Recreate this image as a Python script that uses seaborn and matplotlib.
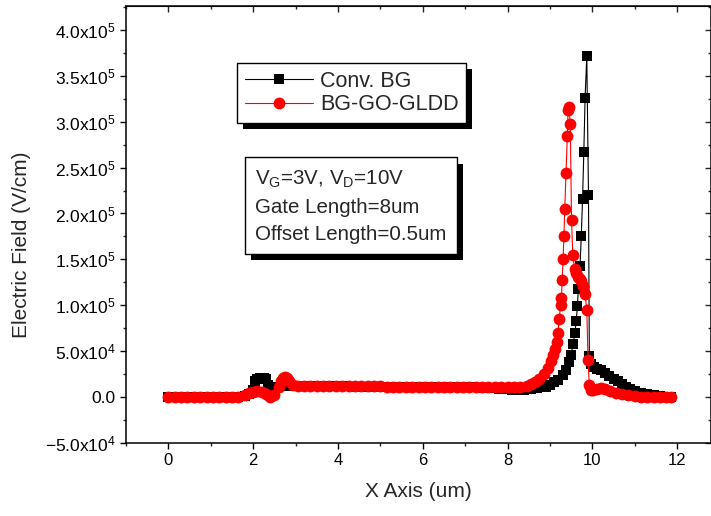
import numpy as np
import pandas as pd
import matplotlib
matplotlib.use("Agg")
import matplotlib.pyplot as plt
import matplotlib.patheffects as pe
import seaborn as sns

# ---- data (y values in units of 1e4 V/cm) ----
SCALE = 1e4

conv_x = [0.0, 0.15, 0.3, 0.45, 0.6, 0.75, 0.9, 1.05, 1.2, 1.35, 1.5, 1.65, 1.8,
          1.9, 2.0, 2.05, 2.1, 2.15, 2.2, 2.25, 2.3, 2.35, 2.45, 2.55, 2.65, 2.75, 2.85,
          3.0, 3.15, 3.3, 3.45, 3.6, 3.75, 3.9, 4.05, 4.2, 4.35, 4.5, 4.65, 4.8, 4.95,
          5.1, 5.25, 5.4, 5.55, 5.7, 5.85, 6.0, 6.15, 6.3, 6.45, 6.6, 6.75, 6.9, 7.05,
          7.2, 7.35, 7.5, 7.65, 7.8, 7.95, 8.1, 8.25, 8.4, 8.55, 8.7, 8.8, 8.9, 9.0,
          9.1, 9.2, 9.3, 9.38, 9.45, 9.5, 9.55, 9.59, 9.62, 9.65, 9.67, 9.71, 9.74,
          9.77, 9.80, 9.83, 9.87, 9.91, 9.93, 9.98, 10.05, 10.12, 10.2, 10.3, 10.4,
          10.5, 10.6, 10.7, 10.8, 10.9, 11.0, 11.15, 11.3, 11.45, 11.6, 11.75, 11.85]
conv_y = [0, 0, 0, 0, 0, 0, 0, 0, 0, 0, 0, 0, 0.1,
          0.3, 0.8, 1.7, 2.0, 2.1, 2.0, 2.1, 2.0, 1.3, 1.0, 1.1, 1.2, 1.2, 1.2,
          1.2, 1.2, 1.2, 1.2, 1.2, 1.2, 1.2, 1.2, 1.2, 1.15, 1.15, 1.15, 1.15, 1.15,
          1.15, 1.15, 1.15, 1.1, 1.1, 1.1, 1.1, 1.1, 1.1, 1.1, 1.05, 1.05, 1.05, 1.05,
          1.05, 1.0, 1.0, 0.95, 0.9, 0.85, 0.8, 0.8, 0.8, 0.85, 0.95, 1.05, 1.15, 1.3,
          1.6, 1.9, 2.4, 3.0, 3.8, 4.6, 5.8, 7.0, 8.3, 9.9, 11.8, 14.3, 17.5,
          21.6, 26.7, 32.6, 37.2, 22.0, 4.5, 3.6, 3.3, 3.1, 2.9, 2.6, 2.3,
          2.0, 1.7, 1.4, 1.1, 0.9, 0.7, 0.5, 0.35, 0.2, 0.1, 0.05, 0.0]

gldd_x = [0.0, 0.15, 0.3, 0.45, 0.6, 0.75, 0.9, 1.05, 1.2, 1.35, 1.5, 1.65,
          1.8, 1.9, 2.0, 2.1, 2.2, 2.3, 2.4, 2.5, 2.6, 2.65, 2.7, 2.75, 2.8, 2.85,
          2.95, 3.05, 3.2, 3.35, 3.5, 3.65, 3.8, 3.95, 4.1, 4.25, 4.4, 4.55, 4.7,
          4.85, 5.0, 5.15, 5.3, 5.45, 5.6, 5.75, 5.9, 6.05, 6.2, 6.35, 6.5, 6.65,
          6.8, 6.95, 7.1, 7.25, 7.4, 7.55, 7.7, 7.85, 8.0, 8.15, 8.3, 8.45, 8.55,
          8.65, 8.75, 8.85, 8.95, 9.02, 9.08, 9.12, 9.16, 9.19, 9.22, 9.25, 9.27,
          9.29, 9.31, 9.33, 9.35, 9.38, 9.41, 9.43, 9.45, 9.48, 9.51, 9.54, 9.58,
          9.62, 9.66, 9.70, 9.74, 9.78, 9.83, 9.87, 9.90, 9.93, 9.97, 10.02, 10.1,
          10.2, 10.3, 10.42, 10.55, 10.7, 10.85, 11.0, 11.15, 11.3, 11.45, 11.6,
          11.75, 11.85]
gldd_y = [0, 0, 0, 0, 0, 0, 0, 0, 0, 0, 0, 0,
          0.2, 0.4, 0.6, 0.7, 0.6, 0.3, 0.0, 0.2, 1.1, 1.8, 2.1, 2.2, 2.1, 1.7,
          1.35, 1.25, 1.25, 1.25, 1.25, 1.25, 1.25, 1.2, 1.2, 1.2, 1.2, 1.2, 1.2,
          1.2, 1.2, 1.15, 1.15, 1.15, 1.15, 1.15, 1.15, 1.15, 1.1, 1.1, 1.1, 1.1,
          1.1, 1.1, 1.1, 1.1, 1.05, 1.05, 1.05, 1.05, 1.05, 1.05, 1.1, 1.25, 1.4,
          1.65, 2.0, 2.5, 3.2, 3.9, 4.6, 5.2, 6.0, 7.0, 8.5, 10.0, 10.8,
          12.8, 15.0, 17.5, 20.5, 24.4, 28.4, 31.3, 31.6, 29.7, 19.3, 15.5, 14.0,
          13.5, 13.1, 12.9, 12.6, 12.1, 11.2, 9.5, 4.0, 1.3, 0.8, 0.75, 0.9,
          0.95, 0.85, 0.7, 0.5, 0.35, 0.2, 0.1, 0.05, 0.0, 0.0, 0.0,
          0.0, 0.0]

series_names = ["Conv. BG", "BG-GO-GLDD"]

x_ticks = [0, 2, 4, 6, 8, 10, 12]
y_ticks = [-5e4, 0, 5e4, 1e5, 1.5e5, 2e5, 2.5e5, 3e5, 3.5e5, 4e5]
y_tick_labels = [r"$\mathregular{-5.0x10^{4}}$", "0.0", r"$\mathregular{5.0x10^{4}}$",
                 r"$\mathregular{1.0x10^{5}}$", r"$\mathregular{1.5x10^{5}}$",
                 r"$\mathregular{2.0x10^{5}}$", r"$\mathregular{2.5x10^{5}}$",
                 r"$\mathregular{3.0x10^{5}}$", r"$\mathregular{3.5x10^{5}}$",
                 r"$\mathregular{4.0x10^{5}}$"]

info_text = ("V$_\\mathregular{G}$=3V, V$_\\mathregular{D}$=10V\n"
             "Gate Length=8um\nOffset Length=0.5um")

conv = pd.DataFrame({"x": conv_x, "y": np.array(conv_y) * SCALE})
gldd = pd.DataFrame({"x": gldd_x, "y": np.array(gldd_y) * SCALE})

# ---- style ----
sns.set_style("ticks")
plt.rcParams["font.family"] = ["Liberation Sans", "DejaVu Sans"]
plt.rcParams["mathtext.fontset"] = "custom"
plt.rcParams["mathtext.rm"] = "Liberation Sans"
plt.rcParams["mathtext.it"] = "Liberation Sans:italic"
plt.rcParams["mathtext.bf"] = "Liberation Sans:bold"

W, H = 711, 516
fig = plt.figure(figsize=(W / 100, H / 100), dpi=100)
ax = fig.add_axes([126 / W, 73 / H, (W - 126) / W, 437 / H])

sns.lineplot(data=conv, x="x", y="y", ax=ax, color="black", lw=0.8, marker="s",
             markersize=7, markeredgewidth=0, sort=False, estimator=None,
             label=series_names[0])
sns.lineplot(data=gldd, x="x", y="y", ax=ax, color="red", lw=0.8, marker="o",
             markersize=8.5, markeredgewidth=0, sort=False, estimator=None,
             label=series_names[1])

ax.set_xlim(-1, 12.8)
ax.set_ylim(-5e4, 4.26e5)
ax.set_xticks(x_ticks)
ax.set_xticks(np.arange(-1, 13, 1), minor=True)
ax.set_yticks(y_ticks, y_tick_labels)
ax.set_yticks(np.arange(-5e4, 4.26e5, 2.5e4), minor=True)
ax.tick_params(which="major", direction="out", length=4, width=1, colors="black")
ax.tick_params(axis="x", which="major", labelsize=12)
ax.tick_params(axis="y", which="major", labelsize=12.5)
ax.tick_params(which="minor", direction="out", length=2.5, width=1)

for s in ax.spines.values():
    s.set_linewidth(1.1)
    s.set_color("black")

top = ax.secondary_xaxis("top")
top.set_xticks(x_ticks)
top.set_xticks(np.arange(-1, 13, 1), minor=True)
top.tick_params(which="both", direction="in", labeltop=False, width=1)
top.tick_params(which="major", length=4)
top.tick_params(which="minor", length=2.5)
right = ax.secondary_yaxis("right")
right.set_yticks(y_ticks)
right.set_yticks(np.arange(-5e4, 4.26e5, 2.5e4), minor=True)
right.tick_params(which="both", direction="in", labelright=False, width=1)
right.tick_params(which="major", length=4)
right.tick_params(which="minor", length=2.5)

ax.set_xlabel("X Axis (um)", fontsize=15, labelpad=10)
ax.set_ylabel("Electric Field (V/cm)", fontsize=15)
ax.yaxis.set_label_coords(-0.162, 0.453)

leg = ax.legend(loc="upper left", bbox_to_anchor=(237 / W, 1 - 63 / H),
                bbox_transform=fig.transFigure, borderaxespad=0, fontsize=15.5,
                frameon=True, fancybox=False, framealpha=1, edgecolor="black",
                borderpad=0.35, labelspacing=0.12, handlelength=3.2, handletextpad=0.3)
frame = leg.get_frame()
frame.set_linewidth(1)
frame.set_path_effects([pe.SimplePatchShadow(offset=(4.5, -4.5), shadow_rgbFace="black",
                                             alpha=1.0), pe.Normal()])

t = fig.text(255 / W, 1 - 169 / H, info_text, fontsize=14.8, va="top", ha="left",
             linespacing=1.52,
             bbox=dict(boxstyle="square,pad=0.5", fc="white", ec="black", lw=1))
t.get_bbox_patch().set_path_effects([pe.SimplePatchShadow(offset=(4.5, -4.5),
                                                         shadow_rgbFace="black", alpha=1.0),
                                     pe.Normal()])

fig.savefig("out.png", dpi=100)
